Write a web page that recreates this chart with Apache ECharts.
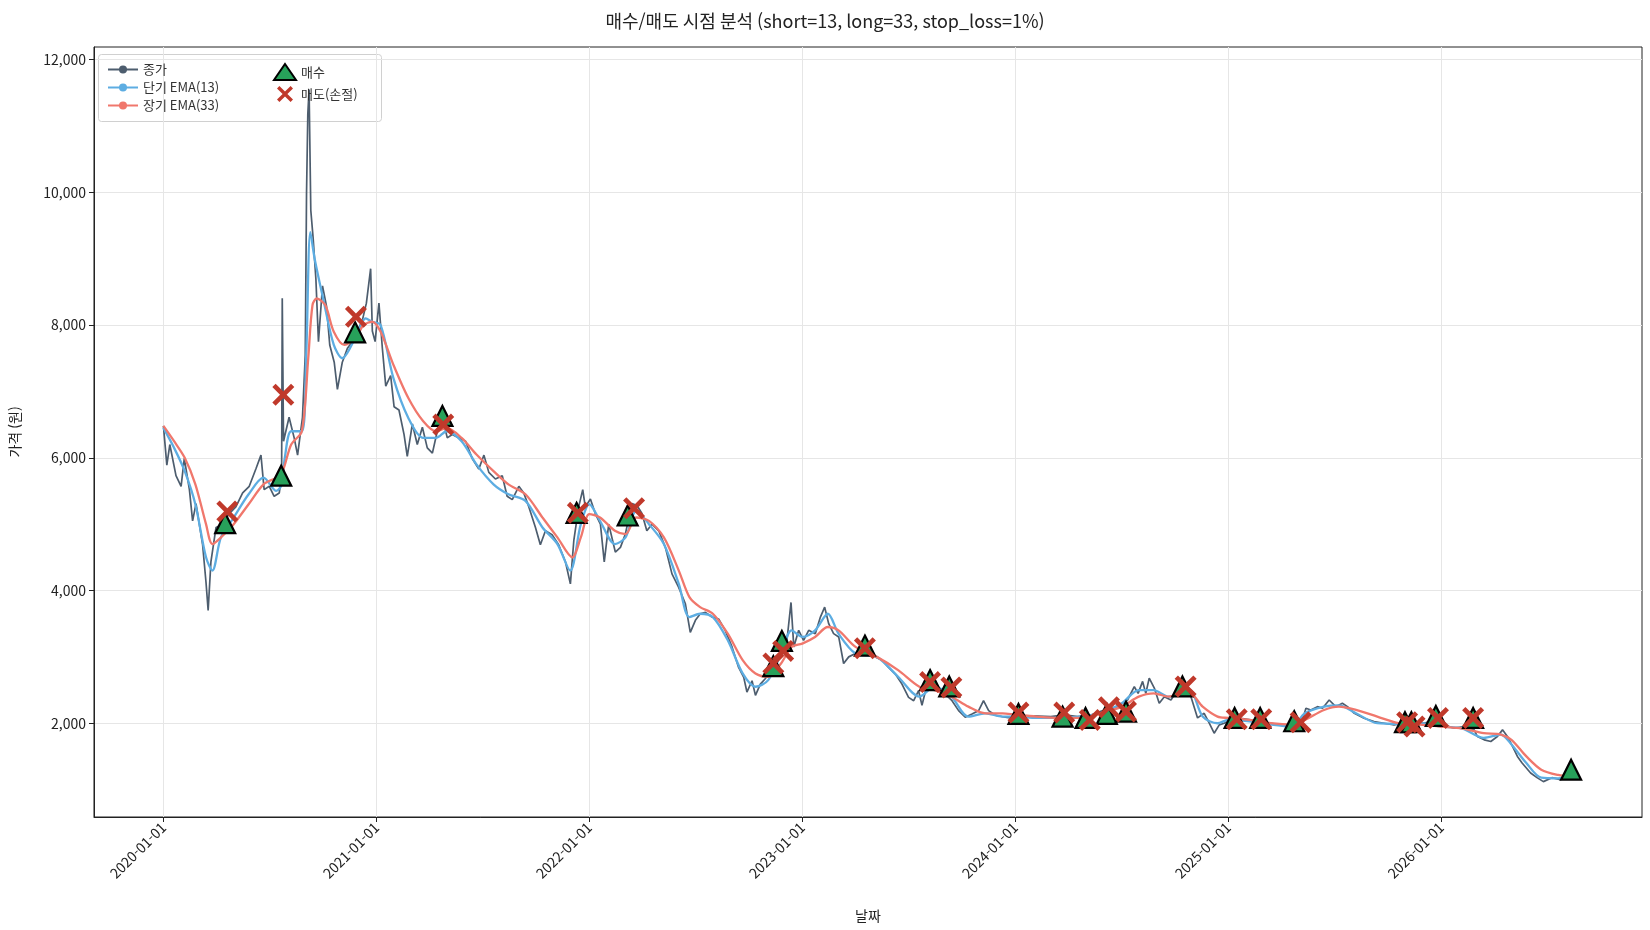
<!DOCTYPE html>
<html lang="ko">
<head>
<meta charset="UTF-8">
<title>매수/매도 시점 분석</title>
<script src="https://cdn.jsdelivr.net/npm/echarts@6/dist/echarts.min.js"></script>
<style>
  html, body { margin: 0; padding: 0; background: #fff; }
  #main { width: 1650px; height: 930px; }
</style>
</head>
<body>
<div id="main"></div>
<script>
// x values are fractional years (2020.5 = mid 2020)
var closePrice = [
  [2020.0,6480],[2020.016,5890],[2020.03,6200],[2020.059,5730],[2020.083,5570],[2020.098,5990],[2020.122,5520],
  [2020.137,5050],[2020.153,5310],[2020.184,4690],[2020.2,4120],[2020.21,3700],[2020.223,4430],[2020.247,4950],
  [2020.278,5000],[2020.309,5160],[2020.34,5260],[2020.372,5470],[2020.403,5570],[2020.434,5830],[2020.458,6040],
  [2020.473,5520],[2020.497,5570],[2020.52,5420],[2020.544,5470],[2020.555,5730],[2020.558,8405],[2020.564,6250],
  [2020.59,6610],[2020.614,6300],[2020.63,6040],[2020.653,6610],[2020.666,7550],[2020.672,9990],[2020.678,11180],
  [2020.684,11550],[2020.692,9730],[2020.703,9310],[2020.716,8690],[2020.728,7750],[2020.747,8590],[2020.766,8280],
  [2020.781,7700],[2020.802,7440],[2020.817,7030],[2020.84,7440],[2020.864,7650],[2020.887,7750],[2020.911,7910],
  [2020.934,8070],[2020.953,8330],[2020.973,8850],[2020.981,7910],[2020.994,7750],[2021.012,8330],[2021.028,7650],
  [2021.044,7080],[2021.067,7240],[2021.083,6770],[2021.106,6720],[2021.13,6350],[2021.145,6020],[2021.169,6510],
  [2021.192,6200],[2021.216,6460],[2021.239,6150],[2021.263,6070],[2021.286,6400],[2021.309,6610],[2021.333,6300],
  [2021.356,6350],[2021.388,6300],[2021.419,6250],[2021.45,5990],[2021.481,5830],[2021.505,6040],[2021.528,5780],
  [2021.559,5680],[2021.591,5730],[2021.614,5420],[2021.638,5370],[2021.669,5570],[2021.692,5470],[2021.716,5260],
  [2021.747,4950],[2021.77,4690],[2021.794,4900],[2021.825,4840],[2021.856,4690],[2021.888,4430],[2021.911,4100],
  [2021.927,4750],[2021.95,5260],[2021.969,5520],[2021.981,5260],[2022.005,5380],[2022.028,5160],[2022.052,5000],
  [2022.07,4430],[2022.091,5000],[2022.122,4580],[2022.146,4650],[2022.169,4850],[2022.2,5310],[2022.224,5280],
  [2022.247,5160],[2022.27,4900],[2022.294,5000],[2022.326,4900],[2022.357,4650],[2022.388,4250],[2022.419,4050],
  [2022.451,3800],[2022.474,3370],[2022.498,3550],[2022.521,3650],[2022.545,3670],[2022.576,3600],[2022.607,3570],
  [2022.638,3400],[2022.67,3150],[2022.701,2840],[2022.725,2690],[2022.74,2470],[2022.764,2640],[2022.78,2420],
  [2022.803,2590],[2022.826,2670],[2022.85,2790],[2022.873,2840],[2022.905,3100],[2022.928,3250],[2022.947,3820],
  [2022.96,3150],[2022.983,3400],[2023.006,3250],[2023.03,3400],[2023.061,3350],[2023.085,3600],[2023.105,3750],
  [2023.124,3500],[2023.147,3350],[2023.171,3300],[2023.194,2900],[2023.218,3000],[2023.249,3050],[2023.28,3150],
  [2023.311,3100],[2023.343,3000],[2023.374,2950],[2023.405,2840],[2023.437,2740],[2023.468,2590],[2023.499,2390],
  [2023.523,2340],[2023.546,2490],[2023.562,2270],[2023.585,2570],[2023.609,2640],[2023.64,2540],[2023.671,2440],
  [2023.703,2340],[2023.734,2190],[2023.765,2090],[2023.797,2140],[2023.828,2190],[2023.851,2340],[2023.875,2190],
  [2023.906,2120],[2023.953,2090],[2024.0,2070],[2024.08,2110],[2024.167,2100],[2024.23,2125],[2024.293,2100],
  [2024.355,2125],[2024.418,2200],[2024.48,2250],[2024.527,2350],[2024.559,2550],[2024.577,2450],[2024.598,2630],
  [2024.613,2450],[2024.629,2680],[2024.653,2530],[2024.676,2300],[2024.7,2400],[2024.731,2350],[2024.762,2500],
  [2024.793,2550],[2024.825,2400],[2024.856,2080],[2024.887,2150],[2024.911,2000],[2024.934,1850],[2024.958,1975],
  [2024.981,2000],[2025.013,2050],[2025.059,2075],[2025.106,2050],[2025.153,2025],[2025.2,2000],[2025.247,1975],
  [2025.294,1925],[2025.341,1975],[2025.365,2225],[2025.388,2200],[2025.419,2250],[2025.443,2225],[2025.474,2350],
  [2025.505,2250],[2025.536,2300],[2025.56,2250],[2025.592,2150],[2025.638,2075],[2025.685,2025],[2025.732,2000],
  [2025.779,1975],[2025.826,2000],[2025.873,2025],[2025.92,2000],[2025.967,2050],[2026.014,1975],[2026.061,1925],
  [2026.108,1950],[2026.155,1900],[2026.17,1800],[2026.202,1750],[2026.233,1725],[2026.264,1800],[2026.288,1900],
  [2026.311,1800],[2026.335,1650],[2026.358,1500],[2026.38,1400],[2026.42,1250],[2026.45,1180],[2026.48,1120],
  [2026.52,1180],[2026.56,1150],[2026.6,1200],[2026.61,1220]
];
var emaShort = [
  [2020.0,6450],[2020.05,6150],[2020.1,5800],[2020.15,5300],[2020.2,4500],[2020.23,4300],[2020.27,4800],[2020.33,5100],
  [2020.4,5450],[2020.47,5700],[2020.53,5500],[2020.556,5600],[2020.57,6000],[2020.6,6400],[2020.65,6400],[2020.67,7500],
  [2020.69,9400],[2020.71,9000],[2020.75,8400],[2020.8,7700],[2020.84,7500],[2020.9,7800],[2020.95,8100],[2020.98,8050],
  [2021.02,8000],[2021.08,7200],[2021.15,6600],[2021.22,6300],[2021.28,6300],[2021.33,6400],[2021.4,6250],[2021.47,5900],
  [2021.55,5600],[2021.62,5450],[2021.7,5350],[2021.78,4950],[2021.85,4700],[2021.91,4300],[2021.96,5000],[2022.0,5300],
  [2022.05,5050],[2022.12,4700],[2022.17,4800],[2022.22,5200],[2022.28,5000],[2022.35,4700],[2022.42,4100],[2022.47,3600],
  [2022.52,3650],[2022.58,3600],[2022.65,3250],[2022.72,2750],[2022.78,2550],[2022.84,2650],[2022.9,3050],[2022.95,3400],
  [2023.0,3300],[2023.06,3400],[2023.12,3650],[2023.17,3350],[2023.25,3050],[2023.35,3000],[2023.45,2700],[2023.55,2400],
  [2023.62,2550],[2023.7,2400],[2023.78,2100],[2023.86,2150],[2023.94,2100],[2024.0,2100],[2024.1,2080],[2024.2,2080],
  [2024.3,2100],[2024.4,2150],[2024.5,2300],[2024.58,2500],[2024.65,2500],[2024.72,2400],[2024.78,2450],[2024.82,2500],
  [2024.88,2100],[2024.95,2000],[2025.0,2050],[2025.1,2030],[2025.2,1980],[2025.3,1950],[2025.36,2150],[2025.45,2250],
  [2025.52,2270],[2025.6,2150],[2025.7,2000],[2025.8,1990],[2025.9,2000],[2026.0,1950],[2026.1,1920],[2026.2,1780],
  [2026.28,1830],[2026.33,1680],[2026.4,1400],[2026.47,1180],[2026.55,1170],[2026.61,1210]
];
var emaLong = [
  [2020.0,6480],[2020.05,6250],[2020.1,6000],[2020.15,5600],[2020.2,5000],[2020.23,4700],[2020.27,4800],[2020.33,5000],
  [2020.4,5300],[2020.47,5600],[2020.53,5700],[2020.56,5800],[2020.6,6200],[2020.65,6400],[2020.68,7500],[2020.7,8300],
  [2020.72,8400],[2020.76,8300],[2020.8,7900],[2020.85,7700],[2020.9,7800],[2020.94,8000],[2020.98,8050],[2021.02,7900],
  [2021.08,7400],[2021.15,6900],[2021.22,6550],[2021.28,6400],[2021.33,6450],[2021.4,6300],[2021.47,6050],[2021.55,5800],
  [2021.62,5600],[2021.7,5450],[2021.78,5100],[2021.85,4800],[2021.92,4500],[2021.96,4800],[2022.0,5150],[2022.05,5100],
  [2022.12,4900],[2022.17,4850],[2022.22,5100],[2022.28,5050],[2022.35,4800],[2022.42,4300],[2022.47,3900],[2022.52,3750],
  [2022.58,3650],[2022.65,3350],[2022.72,2950],[2022.78,2750],[2022.84,2700],[2022.9,2900],[2022.95,3150],[2023.0,3200],
  [2023.06,3300],[2023.12,3450],[2023.17,3400],[2023.25,3150],[2023.35,3000],[2023.45,2800],[2023.55,2550],[2023.62,2500],
  [2023.7,2400],[2023.78,2250],[2023.86,2150],[2023.94,2150],[2024.0,2130],[2024.1,2100],[2024.2,2080],[2024.3,2080],
  [2024.4,2150],[2024.5,2250],[2024.58,2400],[2024.65,2450],[2024.72,2400],[2024.78,2450],[2024.82,2450],[2024.88,2250],
  [2024.95,2100],[2025.0,2080],[2025.1,2050],[2025.2,2000],[2025.3,1980],[2025.36,2050],[2025.45,2200],[2025.52,2250],
  [2025.6,2200],[2025.7,2100],[2025.8,2000],[2025.9,1980],[2026.0,1950],[2026.1,1920],[2026.2,1850],[2026.28,1830],
  [2026.33,1750],[2026.4,1500],[2026.47,1300],[2026.55,1220],[2026.61,1200]
];
var buyPoints = [
  [2020.29,5015],[2020.553,5730],[2020.9,7890],[2021.31,6630],[2021.94,5170],[2022.18,5130],[2022.864,2860],
  [2022.904,3240],[2023.294,3170],[2023.6,2650],[2023.69,2555],[2024.015,2140],[2024.222,2100],[2024.33,2080],
  [2024.43,2140],[2024.52,2175],[2024.785,2555],[2025.03,2080],[2025.15,2080],[2025.31,2030],[2025.83,2015],
  [2025.86,2015],[2025.975,2110],[2026.15,2080],[2026.61,1300]
];
var sellPoints = [
  [2020.30,5190],[2020.563,6950],[2020.904,8125],[2021.314,6500],[2021.946,5170],[2022.21,5240],[2022.864,2900],
  [2022.91,3090],[2023.294,3130],[2023.6,2620],[2023.70,2540],[2024.015,2160],[2024.23,2160],[2024.35,2050],
  [2024.44,2240],[2024.52,2175],[2024.8,2555],[2025.04,2060],[2025.155,2060],[2025.34,2015],[2025.84,2015],
  [2025.875,1950],[2025.985,2080],[2026.15,2080]
];
var yearTicks = [2020, 2021, 2022, 2023, 2024, 2025, 2026];
var priceTicks = [2000, 4000, 6000, 8000, 10000, 12000];

var FONT = '"Noto Sans CJK KR", "Noto Sans", sans-serif';
var chart = echarts.init(document.getElementById('main'));
var gridLine = { color: '#e6e6e6', width: 1, type: 'solid' };
var crossPath = 'path://M3,0 L10,7 L17,0 L20,3 L13,10 L20,17 L17,20 L10,13 L3,20 L0,17 L7,10 L0,3 Z';

var option = {
  animation: false,
  textStyle: { fontFamily: FONT },
  title: {
    text: '매수/매도 시점 분석 (short=13, long=33, stop_loss=1%)',
    left: 'center', top: 7,
    textStyle: { fontFamily: FONT, fontSize: 18, fontWeight: 'normal', color: '#222' }
  },
  graphic: [{
    type: 'rect', left: 98, top: 54, z: 0,
    shape: { width: 283, height: 67, r: 3 },
    style: { fill: 'rgba(255,255,255,0.85)', stroke: '#d0d0d0', lineWidth: 1 }
  }],
  legend: [{
    orient: 'vertical', left: 102, top: 58, itemGap: 5, itemWidth: 30, itemHeight: 10,
    textStyle: { fontFamily: FONT, fontSize: 13, color: '#333' },
    data: ['종가', '단기 EMA(13)', '장기 EMA(33)']
  }, {
    orient: 'vertical', left: 268, top: 58, itemGap: 5, itemWidth: 22, itemHeight: 16,
    textStyle: { fontFamily: FONT, fontSize: 13, color: '#333' },
    data: ['매수', '매도(손절)']
  }],
  grid: { left: 92, right: 8, top: 47, bottom: 113, show: true, borderColor: '#222', borderWidth: 1 },
  xAxis: {
    type: 'value', min: 2019.674, max: 2026.943,
    name: '날짜', nameLocation: 'middle', nameGap: 92,
    nameTextStyle: { fontFamily: FONT, fontSize: 14, color: '#222' },
    axisLine: { lineStyle: { color: '#222' } },
    axisTick: { customValues: yearTicks, lineStyle: { color: '#222' } },
    axisLabel: {
      customValues: yearTicks, rotate: 45, fontSize: 14, color: '#222', fontFamily: FONT,
      formatter: function (v) { return v + '-01-01'; }
    },
    splitLine: { show: false }
  },
  yAxis: {
    type: 'value', min: 587, max: 12190,
    name: '가격 (원)', nameLocation: 'middle', nameGap: 72, nameRotate: 90,
    nameTextStyle: { fontFamily: FONT, fontSize: 14, color: '#222' },
    axisLine: { show: true, lineStyle: { color: '#222' } },
    axisTick: { show: true, customValues: priceTicks, lineStyle: { color: '#222' } },
    axisLabel: {
      customValues: priceTicks, fontSize: 14, color: '#222', fontFamily: FONT,
      formatter: function (v) { return v.toLocaleString('en-US'); }
    },
    splitLine: { show: false }
  },
  series: [{
    name: '종가', type: 'line', data: closePrice, symbol: 'none',
    lineStyle: { color: '#4d5d6e', width: 1.7 }, itemStyle: { color: '#4d5d6e' }, z: 2,
    markLine: {
      silent: true, symbol: 'none', label: { show: false }, lineStyle: gridLine, z: 0,
      data: yearTicks.map(function (y) { return { xAxis: y }; })
        .concat(priceTicks.map(function (p) { return { yAxis: p }; }))
    }
  }, {
    name: '단기 EMA(13)', type: 'line', data: emaShort, symbol: 'none', smooth: 0.3,
    lineStyle: { color: '#5dade2', width: 2.3 }, itemStyle: { color: '#5dade2' }, z: 3
  }, {
    name: '장기 EMA(33)', type: 'line', data: emaLong, symbol: 'none', smooth: 0.3,
    lineStyle: { color: '#f0776c', width: 2.3 }, itemStyle: { color: '#f0776c' }, z: 3
  }, {
    name: '매수', type: 'scatter', data: buyPoints, symbol: 'triangle', symbolSize: 20,
    itemStyle: { color: '#27a15a', borderColor: '#000', borderWidth: 2.2, opacity: 1 }, z: 5
  }, {
    name: '매도(손절)', type: 'scatter', data: sellPoints, symbol: crossPath, symbolSize: 22,
    itemStyle: { color: '#c0392b', opacity: 1 }, z: 6
  }]
};
chart.setOption(option);
</script>
</body>
</html>
